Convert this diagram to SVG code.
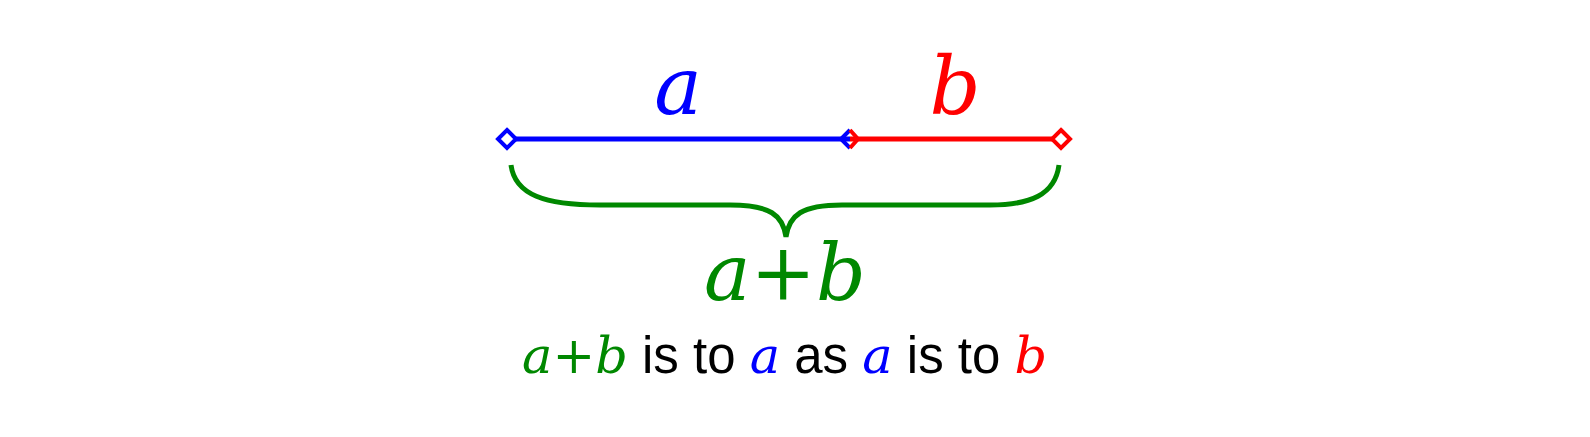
<svg xmlns="http://www.w3.org/2000/svg" width="1590" height="437" viewBox="0 0 1590 437">
<style>
.m{font-family:"DejaVu Serif","Liberation Serif",serif;font-style:italic}
.s{font-family:"Liberation Sans",Arial,sans-serif}
</style>
<rect width="1590" height="437" fill="#fff"/>
<g id="connectors">
<line x1="507" y1="139" x2="850" y2="139" stroke="#00f" stroke-width="5"/>
<line x1="850" y1="139" x2="1061" y2="139" stroke="#f00" stroke-width="5"/>
<path d="M511,165 C515,195 545,205 600,205 L730,205 C770,205 783,215 786,237 C789,215 802,205 842,205 L990,205 C1030,205 1055,195 1059,165" fill="none" stroke="#080" stroke-width="5"/>
</g>
<g id="ends">
<path d="M507,130 L516,139 L507,148 L498,139 Z" fill="#fff" stroke="#00f" stroke-width="4"/>
<path d="M850,130 L841,139 L850,148" fill="none" stroke="#00f" stroke-width="4"/>
<path d="M850,130 L858,139 L850,148" fill="none" stroke="#f00" stroke-width="4"/>
<path d="M1061,130 L1070,139 L1061,148 L1052,139 Z" fill="#fff" stroke="#f00" stroke-width="4"/>
</g>
<g id="labels">
<text x="678" y="114" class="m" font-size="80" fill="#00f" text-anchor="middle">a</text>
<text x="955" y="114" class="m" font-size="80" fill="#f00" text-anchor="middle">b</text>
<text x="785" y="300" class="m" font-size="78" fill="#080" text-anchor="middle">a+b</text>
<text x="522" y="373" font-size="51" class="s"><tspan class="m" fill="#080">a+b</tspan> is to <tspan class="m" fill="#00f">a</tspan> as <tspan class="m" fill="#00f">a</tspan> is to <tspan class="m" fill="#f00">b</tspan></text>
</g>
</svg>
